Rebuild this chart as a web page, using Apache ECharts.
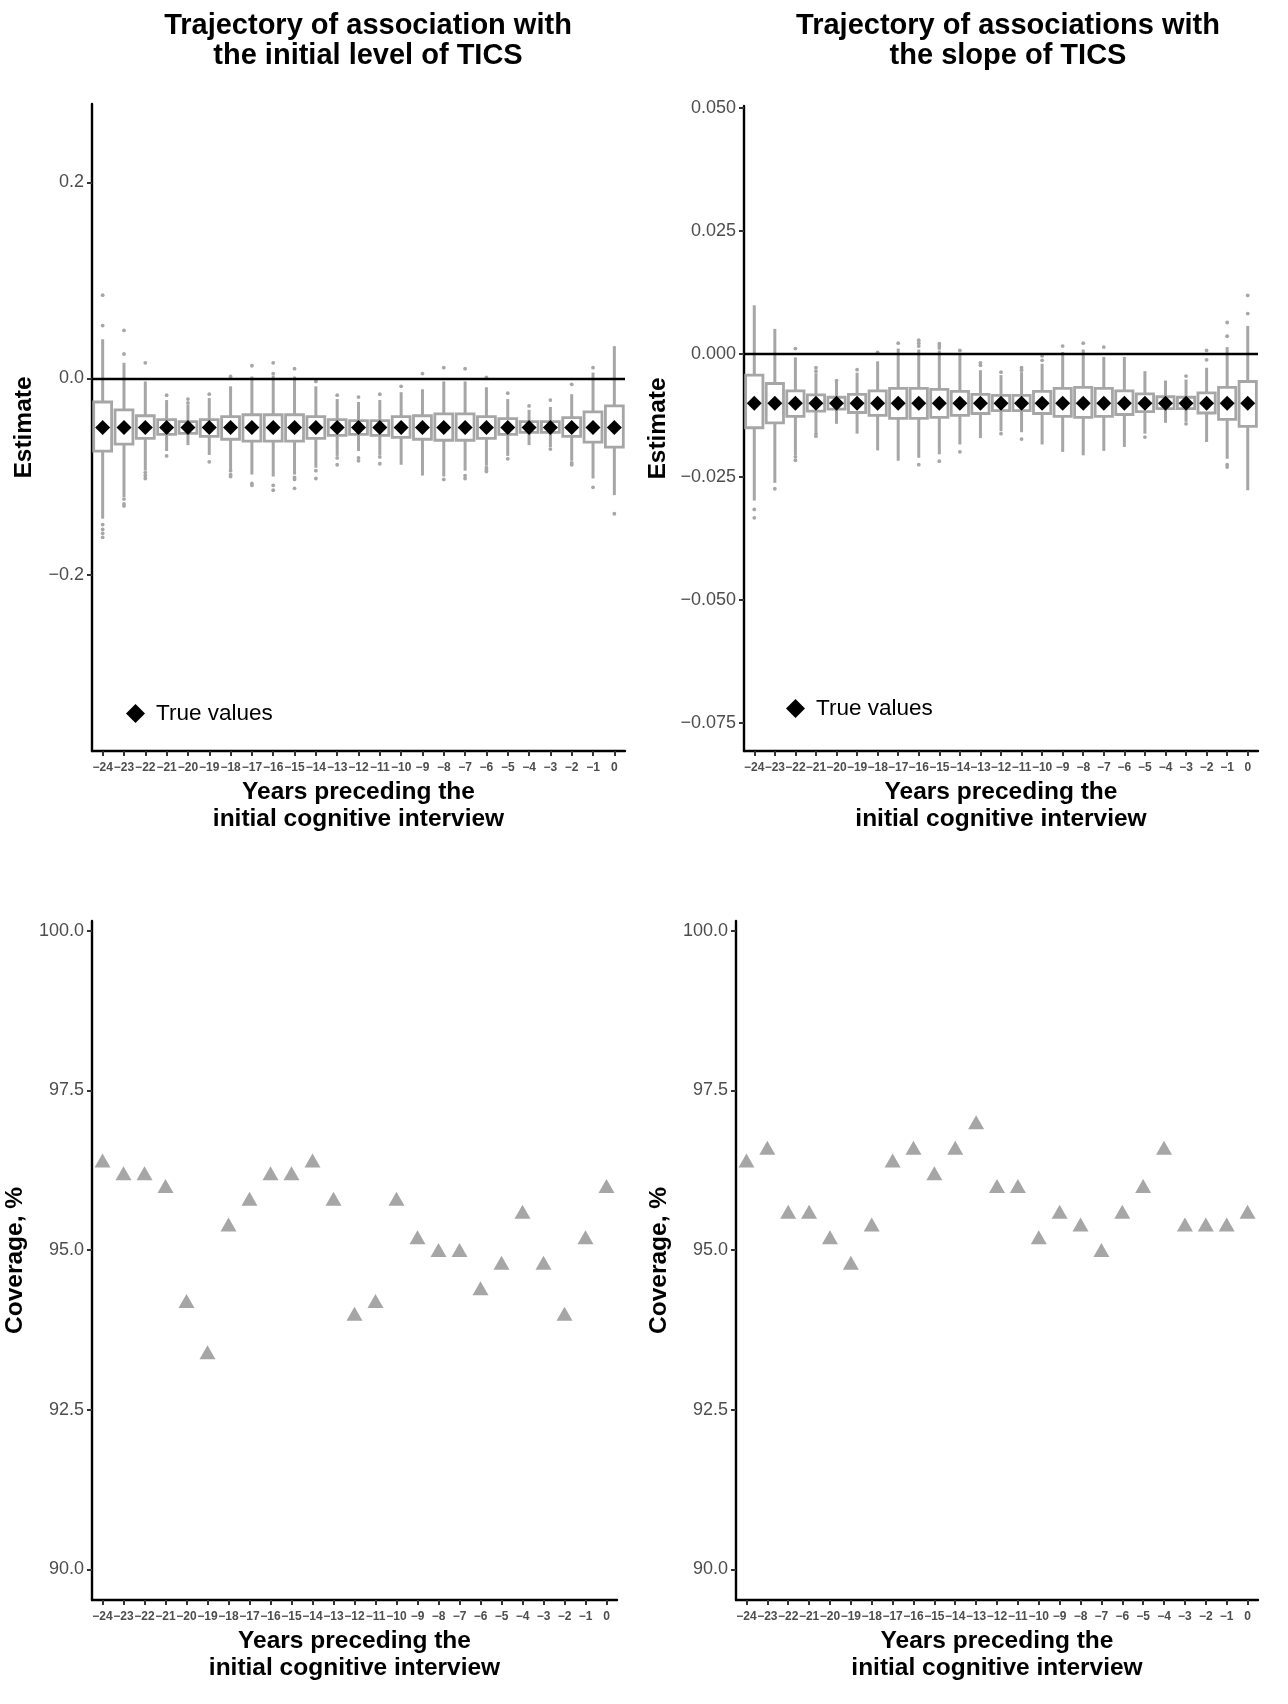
<!DOCTYPE html>
<html>
<head>
<meta charset="utf-8">
<script src="https://cdn.jsdelivr.net/npm/echarts@6/dist/echarts.min.js"></script>
<style>
html,body{margin:0;padding:0;background:#fff;}
#chart{width:1288px;height:1704px;}
</style>
</head>
<body>
<div id="chart"></div>
<script>
// ---------- DATA ----------
const years = [-24,-23,-22,-21,-20,-19,-18,-17,-16,-15,-14,-13,-12,-11,-10,-9,-8,-7,-6,-5,-4,-3,-2,-1,0];

// Panel A: association with initial level of TICS
const trueLevel = -0.05;
// [whiskerLow, Q1, Q3, whiskerHigh]
const boxLevel = [
  [-0.143,-0.074,-0.024,0.040],
  [-0.121,-0.067,-0.032,0.016],
  [-0.094,-0.061,-0.038,-0.003],
  [-0.074,-0.057,-0.042,-0.022],
  [-0.068,-0.056,-0.044,-0.027],
  [-0.078,-0.059,-0.042,-0.020],
  [-0.093,-0.062,-0.039,-0.008],
  [-0.098,-0.064,-0.037,0.002],
  [-0.100,-0.064,-0.037,0.003],
  [-0.098,-0.064,-0.037,0.002],
  [-0.091,-0.061,-0.039,-0.008],
  [-0.079,-0.058,-0.042,-0.021],
  [-0.074,-0.057,-0.043,-0.024],
  [-0.078,-0.058,-0.043,-0.022],
  [-0.088,-0.060,-0.039,-0.014],
  [-0.099,-0.062,-0.038,-0.011],
  [-0.100,-0.063,-0.036,-0.003],
  [-0.094,-0.063,-0.036,-0.003],
  [-0.089,-0.061,-0.039,-0.009],
  [-0.079,-0.057,-0.041,-0.021],
  [-0.068,-0.055,-0.044,-0.032],
  [-0.070,-0.055,-0.044,-0.029],
  [-0.084,-0.059,-0.040,-0.016],
  [-0.102,-0.065,-0.034,0.006],
  [-0.119,-0.070,-0.028,0.033]
];
// [yearIndex, value]
const outLevel = [
  [0,0.054],[0,0.085],[0,-0.149],[0,-0.154],[0,-0.158],[0,-0.162],
  [1,0.025],[1,0.049],[1,-0.123],[1,-0.128],[1,-0.130],
  [2,0.016],[2,-0.096],[2,-0.099],[2,-0.102],
  [3,-0.017],[3,-0.079],
  [4,-0.021],[4,-0.025],
  [5,-0.016],[5,-0.085],
  [6,0.002],[6,-0.094],[6,-0.098],[6,-0.100],
  [7,0.013],[7,-0.107],[7,-0.109],
  [8,0.016],[8,0.005],[8,-0.109],[8,-0.114],
  [9,0.010],[9,-0.101],[9,-0.103],[9,-0.112],
  [10,-0.003],[10,-0.094],[10,-0.102],
  [11,-0.017],[11,-0.081],[11,-0.088],
  [12,-0.019],[12,-0.081],[12,-0.084],
  [13,-0.016],[13,-0.080],[13,-0.087],
  [14,-0.008],
  [15,0.005],
  [16,0.011],[16,-0.103],
  [17,0.010],[17,-0.099],[17,-0.102],
  [18,0.001],[18,-0.091],[18,-0.093],[18,-0.095],
  [19,-0.015],[19,-0.082],
  [20,-0.028],
  [21,-0.022],[21,-0.072],
  [22,-0.006],[22,-0.086],[22,-0.088],
  [23,0.011],[23,-0.111],
  [24,-0.138]
];

// Panel B: association with slope of TICS
const trueSlope = -0.01;
const boxSlope = [
  [-0.0298,-0.0150,-0.0043,0.0099],
  [-0.0262,-0.0140,-0.0060,0.0051],
  [-0.0206,-0.0127,-0.0075,-0.0007],
  [-0.0159,-0.0116,-0.0083,-0.0039],
  [-0.0142,-0.0112,-0.0088,-0.0057],
  [-0.0162,-0.0119,-0.0082,-0.0038],
  [-0.0196,-0.0125,-0.0075,-0.0015],
  [-0.0217,-0.0131,-0.0070,0.0011],
  [-0.0211,-0.0131,-0.0070,0.0009],
  [-0.0204,-0.0129,-0.0072,0.0007],
  [-0.0184,-0.0125,-0.0076,0.0001],
  [-0.0171,-0.0121,-0.0082,-0.0033],
  [-0.0157,-0.0115,-0.0084,-0.0043],
  [-0.0159,-0.0115,-0.0084,-0.0037],
  [-0.0184,-0.0121,-0.0076,-0.0020],
  [-0.0199,-0.0127,-0.0070,0.0004],
  [-0.0206,-0.0129,-0.0068,0.0009],
  [-0.0197,-0.0127,-0.0070,-0.0006],
  [-0.0189,-0.0123,-0.0075,-0.0006],
  [-0.0162,-0.0117,-0.0081,-0.0035],
  [-0.0140,-0.0111,-0.0087,-0.0054],
  [-0.0138,-0.0111,-0.0088,-0.0052],
  [-0.0179,-0.0120,-0.0079,-0.0028],
  [-0.0213,-0.0133,-0.0068,0.0014],
  [-0.0277,-0.0147,-0.0056,0.0057]
];
const outSlope = [
  [0,-0.0316],[0,-0.0333],
  [1,-0.0274],
  [2,0.0011],[2,-0.0209],[2,-0.0216],
  [3,-0.0028],[3,-0.0035],[3,-0.0162],[3,-0.0167],
  [4,-0.0054],
  [5,-0.0032],
  [6,0.0003],
  [7,0.0022],
  [8,0.0028],[8,0.0022],[8,0.0016],[8,-0.0225],
  [9,0.0021],[9,0.0016],[9,0.0012],[9,-0.0218],
  [10,0.0007],[10,-0.0199],
  [11,-0.0018],[11,-0.0023],
  [12,-0.0037],[12,-0.0162],
  [13,-0.0028],[13,-0.0033],[13,-0.0173],
  [14,-0.0004],[14,-0.0013],
  [15,0.0016],
  [16,0.0022],
  [17,0.0014],
  [19,-0.0169],
  [21,-0.0045],[21,-0.0142],
  [22,0.0007],[22,-0.0012],
  [23,0.0064],[23,0.0036],[23,-0.0225],[23,-0.0230],
  [24,0.0119],[24,0.0082]
];

// Coverage (%)
const covLevel = [96.4,96.2,96.2,96.0,94.2,93.4,95.4,95.8,96.2,96.2,96.4,95.8,94.0,94.2,95.8,95.2,95.0,95.0,94.4,94.8,95.6,94.8,94.0,95.2,96.0];
const covSlope = [96.4,96.6,95.6,95.6,95.2,94.8,95.4,96.4,96.6,96.2,96.6,97.0,96.0,96.0,95.2,95.6,95.4,95.0,95.6,96.0,96.6,95.4,95.4,95.4,95.6];

const ticksLevel = [-0.2, 0.0, 0.2];
const ticksSlope = [-0.075, -0.05, -0.025, 0, 0.025, 0.05];
const ticksCov = [90, 92.5, 95, 97.5, 100];

// ---------- STYLE ----------
const FONT = 'Liberation Sans, Arial, sans-serif';
const GREY = '#A6A6A6';
const minus = s => String(s).replace('-', '\u2212');

const grids = [
  {left: 92,  top: 104, width: 533, height: 647},
  {left: 744, top: 106, width: 514, height: 645},
  {left: 92,  top: 921, width: 525, height: 679},
  {left: 736, top: 921, width: 522, height: 679}
];

function xAxisFor(i){
  return {
    type: 'category', gridIndex: i, data: years,
    boundaryGap: true,
    axisLine: {show: true, onZero: false, lineStyle: {color: '#000', width: 2.4}},
    axisTick: {show: true, alignWithLabel: true, length: 5, lineStyle: {color: '#333', width: 2}},
    axisLabel: {interval: 0, margin: 11, color: '#4D4D4D', fontSize: 12, fontWeight: 'bold', fontFamily: FONT,
      formatter: v => minus(v)},
    splitLine: {show: false},
    name: 'Years preceding the\ninitial cognitive interview',
    nameLocation: 'middle', nameGap: 28,
    nameTextStyle: {color: '#000', fontSize: 24.5, fontWeight: 'bold', fontFamily: FONT, lineHeight: 27}
  };
}
function yAxisFor(i, min, max, ticks, dec, name, gap){
  return {
    type: 'value', gridIndex: i, min: min, max: max,
    axisLine: {show: true, onZero: false, lineStyle: {color: '#000', width: 2.4}},
    axisTick: {show: true, length: 5, lineStyle: {color: '#333', width: 2}, customValues: ticks},
    axisLabel: {color: '#4D4D4D', fontSize: 18, fontFamily: FONT, margin: 8, customValues: ticks,
      formatter: v => minus(Number(v).toFixed(dec))},
    splitLine: {show: false},
    name: name, nameLocation: 'middle', nameGap: gap, nameRotate: 90,
    nameTextStyle: {color: '#000', fontSize: 24.5, fontWeight: 'bold', fontFamily: FONT}
  };
}

function boxRender(params, api){
  const x = api.value(0);
  const lo = api.coord([x, api.value(1)]);
  const q1 = api.coord([x, api.value(2)]);
  const q3 = api.coord([x, api.value(3)]);
  const hi = api.coord([x, api.value(4)]);
  const bw = api.size([1, 0])[0] * 0.84;
  return {type: 'group', children: [
    {type: 'line', shape: {x1: lo[0], y1: lo[1], x2: hi[0], y2: hi[1]}, style: {stroke: GREY, lineWidth: 3}},
    {type: 'rect', shape: {x: q3[0] - bw/2, y: q3[1], width: bw, height: q1[1] - q3[1]},
      style: {fill: '#fff', stroke: GREY, lineWidth: 2.8}}
  ]};
}

function boxSeries(i, box){
  return {
    type: 'custom', xAxisIndex: i, yAxisIndex: i, silent: true,
    renderItem: boxRender,
    encode: {x: 0, y: [1,2,3,4]},
    data: box.map((b, k) => [k, b[0], b[1], b[2], b[3]]),
    z: 2
  };
}
function outSeries(i, out){
  return {type: 'scatter', xAxisIndex: i, yAxisIndex: i, silent: true, symbol: 'circle', symbolSize: 3.8,
    itemStyle: {color: GREY, opacity: 1}, data: out, z: 3};
}
function trueSeries(i, val){
  return {type: 'scatter', name: 'True values', xAxisIndex: i, yAxisIndex: i, silent: true,
    symbol: 'diamond', symbolSize: [15, 15], itemStyle: {color: '#000', opacity: 1},
    data: years.map((y, k) => [k, val]), z: 5,
    markLine: {silent: true, symbol: 'none', label: {show: false},
      lineStyle: {color: '#000', width: 2.4, type: 'solid', opacity: 1}, data: [{yAxis: 0}]}};
}
function covSeries(i, cov){
  return {type: 'scatter', xAxisIndex: i, yAxisIndex: i, silent: true, symbol: 'triangle', symbolSize: [16, 14],
    itemStyle: {color: GREY, opacity: 1}, data: cov.map((c, k) => [k, c]), z: 3};
}

const titleStyle = {color: '#000', fontSize: 29, fontWeight: 'bold', fontFamily: FONT, lineHeight: 30};
const legendText = {color: '#000', fontSize: 22.5, fontFamily: FONT, padding: [0,0,0,6]};

const option = {
  animation: false,
  backgroundColor: '#fff',
  title: [
    {text: 'Trajectory of association with\nthe initial level of TICS', left: 368, top: 11, textAlign: 'center', padding: 0, textStyle: titleStyle},
    {text: 'Trajectory of associations with\nthe slope of TICS', left: 1008, top: 11, textAlign: 'center', padding: 0, textStyle: titleStyle}
  ],
  legend: [
    {data: [{name: 'True values', icon: 'diamond', itemStyle: {color: '#000', opacity: 1}}], left: 126, top: 702, itemWidth: 19, itemHeight: 19, itemGap: 0,
      selectedMode: false, padding: 0, textStyle: legendText},
    {data: [{name: 'True values', icon: 'diamond', itemStyle: {color: '#000', opacity: 1}}], left: 786, top: 697, itemWidth: 19, itemHeight: 19, itemGap: 0,
      selectedMode: false, padding: 0, textStyle: legendText}
  ],
  grid: grids,
  xAxis: [xAxisFor(0), xAxisFor(1), xAxisFor(2), xAxisFor(3)],
  yAxis: [
    yAxisFor(0, -0.38, 0.28, ticksLevel, 1, 'Estimate', 55),
    yAxisFor(1, -0.0807, 0.0504, ticksSlope, 3, 'Estimate', 73),
    yAxisFor(2, 89.52, 100.15, ticksCov, 1, 'Coverage, %', 64),
    yAxisFor(3, 89.52, 100.15, ticksCov, 1, 'Coverage, %', 64)
  ],
  series: [
    boxSeries(0, boxLevel), outSeries(0, outLevel), trueSeries(0, trueLevel),
    boxSeries(1, boxSlope), outSeries(1, outSlope), trueSeries(1, trueSlope),
    covSeries(2, covLevel), covSeries(3, covSlope)
  ]
};

const chart = echarts.init(document.getElementById('chart'), null, {renderer: 'canvas'});
chart.setOption(option);
</script>
</body>
</html>
